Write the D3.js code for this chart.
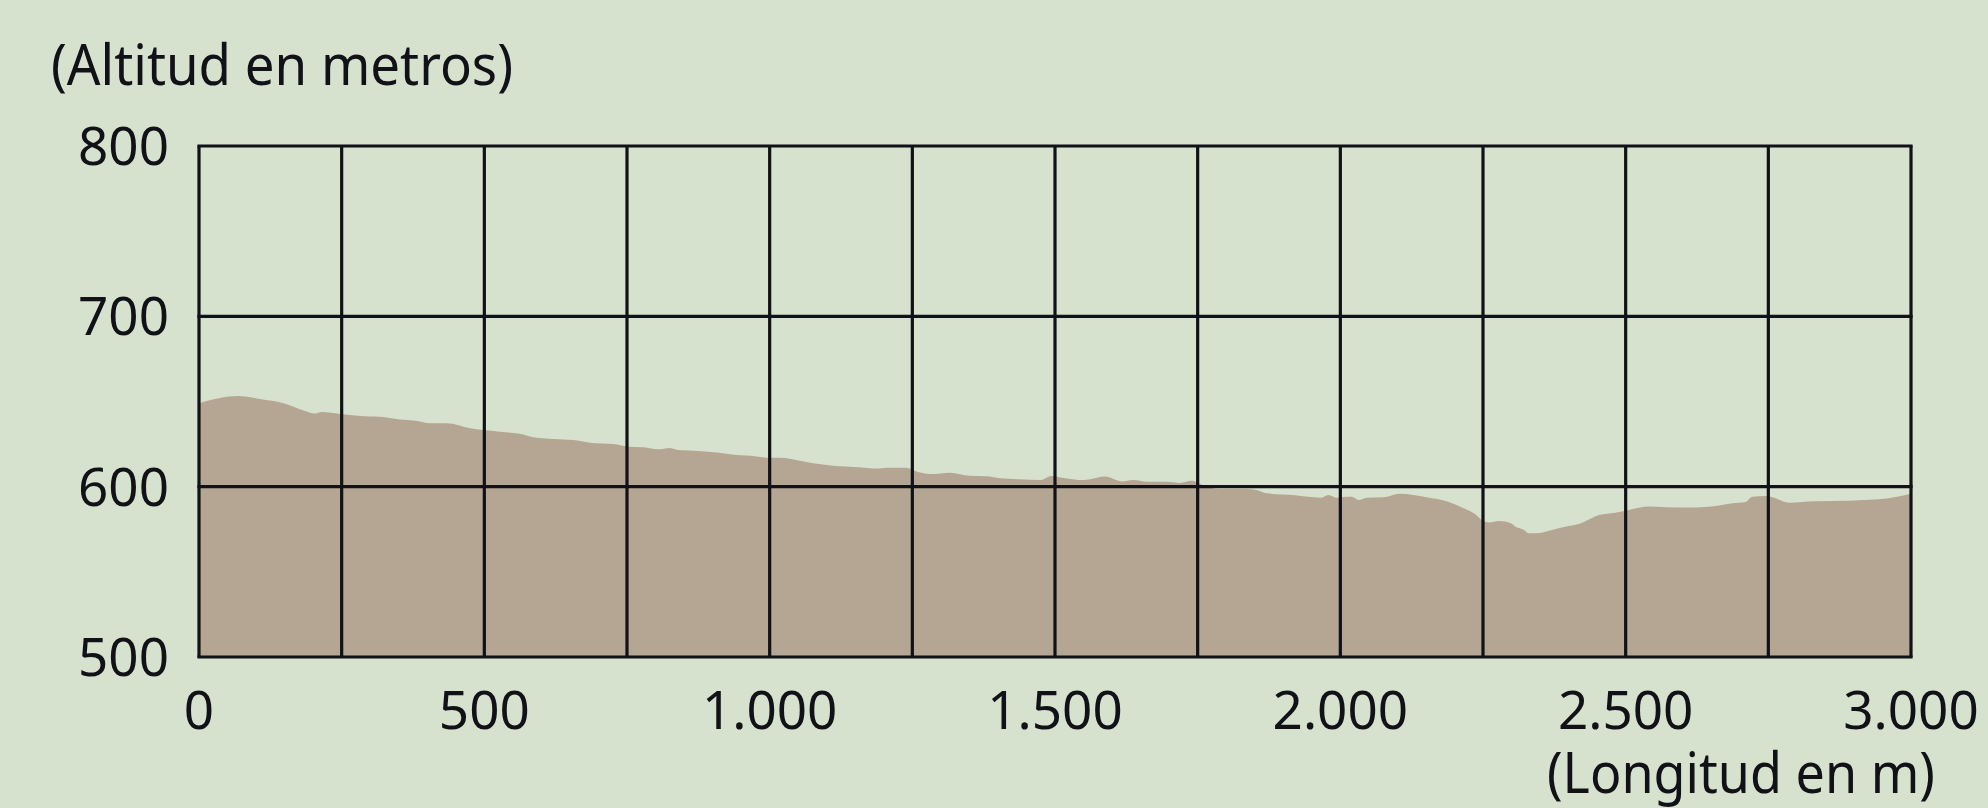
<!DOCTYPE html>
<html>
<head>
<meta charset="utf-8">
<script src="https://cdn.jsdelivr.net/npm/d3@7"></script>
<style>
  html, body { margin: 0; padding: 0; background: #d6e2cd; }
  svg { display: block; }
  text { font-family: "Noto Sans", sans-serif; fill: #111118; }
</style>
</head>
<body>
<svg id="chart" width="1988" height="808"></svg>
<script>
// Distance along the route (m)
const distance = [0, 69, 107, 148, 186, 203, 215, 247, 282, 317, 352, 381, 405, 434, 475, 498, 527, 562, 586, 621, 656, 685, 726, 752, 779, 805, 825, 837, 866, 907, 948, 971, 995, 1018, 1053, 1076, 1111, 1158, 1187, 1205, 1240, 1255, 1281, 1316, 1351, 1380, 1404, 1439, 1474, 1494, 1512, 1550, 1573, 1588, 1617, 1637, 1661, 1696, 1719, 1740, 1754, 1789, 1836, 1853, 1871, 1917, 1953, 1967, 1979, 1993, 2011, 2020, 2032, 2046, 2075, 2104, 2151, 2189, 2216, 2236, 2248, 2261, 2278, 2299, 2307, 2322, 2330, 2342, 2371, 2394, 2418, 2453, 2482, 2500, 2541, 2570, 2611, 2664, 2687, 2710, 2722, 2745, 2757, 2786, 2833, 2891, 2961, 3000];
// Altitude (m)
const altitude = [649, 653.2, 651.5, 649, 644.4, 642.9, 643.8, 642.7, 641.5, 641, 639.5, 638.7, 637.2, 637.2, 634.3, 633.3, 632.3, 631, 629, 628, 627.4, 625.8, 625, 623.5, 623.1, 621.9, 622.7, 621.7, 621.1, 620, 618.4, 618, 617, 617, 615.2, 613.7, 612.3, 611.4, 610.6, 611.1, 611.1, 609.2, 607.4, 608.2, 606.4, 606.1, 604.9, 604.3, 603.9, 606.3, 605.3, 603.9, 605.3, 605.9, 603.1, 603.9, 602.9, 602.9, 602.2, 603.5, 601.6, 598.6, 598.6, 598, 596.1, 595.1, 593.8, 593.5, 595.1, 593.5, 594.1, 594.1, 592.2, 593.5, 593.8, 595.9, 593.8, 591.2, 587.3, 583.9, 580.4, 578.9, 579.8, 578.5, 576.5, 574.6, 572.6, 572.6, 574.6, 576.5, 578.1, 583.4, 584.7, 585.9, 588.3, 587.9, 587.7, 588.9, 590.2, 591, 594.1, 594.5, 593.8, 590.6, 591.4, 591.8, 593.2, 595.8];

const yTicks = [500, 600, 700, 800];
const yTickLabels = ["500", "600", "700", "800"];
const xGrid = [0, 250, 500, 750, 1000, 1250, 1500, 1750, 2000, 2250, 2500, 2750, 3000];
const xTicks = [0, 500, 1000, 1500, 2000, 2500, 3000];
const xTickLabels = ["0", "500", "1.000", "1.500", "2.000", "2.500", "3.000"];
const yTitle = "(Altitud en metros)";
const xTitle = "(Longitud en m)";

const plotLeft = 199, plotRight = 1911, plotTop = 146, plotBottom = 657;
const svg = d3.select("#chart");

const x = d3.scaleLinear().domain([0, 3000]).range([plotLeft, plotRight]);
const y = d3.scaleLinear().domain([500, 800]).range([plotBottom, plotTop]);

const data = distance.map((d, i) => ({ d, a: altitude[i] }));

// terrain area
const area = d3.area()
  .x(p => x(p.d))
  .y0(y(500))
  .y1(p => y(p.a))
  .curve(d3.curveMonotoneX);

svg.append("path")
  .datum(data)
  .attr("d", area)
  .attr("fill", "#b5a693");

// grid
const gridColor = "#111118";
const sw = 3.2;
svg.append("g")
  .selectAll("line")
  .data(xGrid)
  .join("line")
  .attr("x1", d => x(d)).attr("x2", d => x(d))
  .attr("y1", y(800)).attr("y2", y(500))
  .attr("stroke", gridColor)
  .attr("stroke-width", sw);

svg.append("g")
  .selectAll("line")
  .data(yTicks)
  .join("line")
  .attr("x1", x(0) - sw / 2).attr("x2", x(3000) + sw / 2)
  .attr("y1", d => y(d)).attr("y2", d => y(d))
  .attr("stroke", gridColor)
  .attr("stroke-width", sw);

// y tick labels
svg.append("g")
  .selectAll("text")
  .data(yTicks)
  .join("text")
  .attr("x", 169)
  .attr("y", d => y(d) + 19)
  .attr("text-anchor", "end")
  .attr("font-size", 53)
  .text((d, i) => yTickLabels[i]);

// x tick labels
svg.append("g")
  .selectAll("text")
  .data(xTicks)
  .join("text")
  .attr("x", d => x(d))
  .attr("y", 729)
  .attr("text-anchor", "middle")
  .attr("font-size", 53)
  .text((d, i) => xTickLabels[i]);

// titles
svg.append("text")
  .attr("x", 51)
  .attr("y", 85)
  .attr("font-size", 57)
  .attr("textLength", 462)
  .attr("lengthAdjust", "spacingAndGlyphs")
  .text(yTitle);

svg.append("text")
  .attr("x", 1547)
  .attr("y", 793)
  .attr("font-size", 57)
  .attr("textLength", 388)
  .attr("lengthAdjust", "spacingAndGlyphs")
  .text(xTitle);
</script>
</body>
</html>
